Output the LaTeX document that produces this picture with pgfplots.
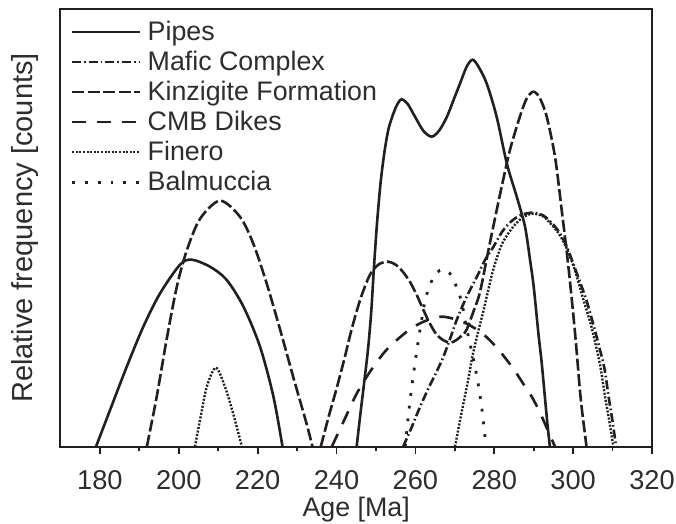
\documentclass[border=0pt]{standalone}
\usepackage{pgfplots}
\pgfplotsset{compat=1.18}
\usepackage{fontspec}
\setmainfont{Liberation Sans}
\definecolor{ink}{RGB}{35,31,32}
\definecolor{txt}{RGB}{45,45,45}

\begin{document}
\fontsize{13}{15.6}\selectfont
\begin{tikzpicture}
\begin{axis}[
  scale only axis,
  width=295.75pt, height=218.7pt,
  xmin=170, xmax=320, ymin=0, ymax=437.4,
  xtick={180,200,...,320},
  minor x tick num=1,
  ytick=\empty,
  xtick pos=bottom,
  tick align=outside,
  major tick length=3.6pt,
  minor tick length=2.2pt,
  every tick/.style={ink, line width=0.9pt},
  axis line style={ink, line width=1pt},
  /pgf/number format/assume math mode=true,
  /pgf/number format/1000 sep={},
  tick label style={font=\fontsize{13.6}{16}\selectfont, text=txt},
  xticklabel style={yshift=-4pt},
  xlabel={Age [Ma]},
  xlabel style={font=\fontsize{13.4}{16}\selectfont, text=txt, yshift=5.5pt},
  ylabel={Relative frequency [counts]},
  ylabel style={font=\fontsize{14.5}{17}\selectfont, text=txt, at={(axis description cs:-0.022,0.5)}, anchor=south},
  legend style={at={(0,1)}, anchor=north west, draw=none, fill=none,
    font=\fontsize{13.4}{16}\selectfont, text=txt,
    inner xsep=5pt, inner ysep=5.5pt,
    nodes={inner sep=0pt, text height=9.7pt, text depth=2.8pt},
    /tikz/row sep=2.5pt,
    /tikz/every odd column/.append style={column sep=3pt}},
  legend cell align=left,
  legend image code/.code={\draw[#1] (0pt,0.5pt) -- (34pt,0.5pt);},
  every axis plot/.append style={ink, line width=1.3pt, smooth, tension=0.5},
]
% Pipes
\addplot[solid] coordinates {
(179.0,0) (182.6,37) (186.8,80) (191.0,120) (195.2,153) (200.3,182) (203.3,187)
(207.9,180) (212.1,167) (216.4,140) (220.6,100) (224.0,50) (226.3,0)};
\addlegendentry{Pipes}
% Mafic Complex
\addplot[dash pattern=on 4.5pt off 1.5pt on 0.8pt off 1.5pt] coordinates {
(256.9,0) (259.0,19) (261.2,40) (263.5,60) (265.5,76) (267.1,90) (268.8,108)
(270.5,127) (273.0,150) (275.6,170) (277.7,187) (279.8,200) (282.0,215)
(284.5,226) (287.0,232) (289.9,234) (292.5,231) (295.0,222) (296.7,213)
(298.4,200) (300.5,178) (302.0,162) (303.4,146) (305.0,124) (306.8,97)
(308.0,77) (309.0,50) (310.0,25) (310.9,0)};
\addlegendentry{Mafic Complex}
% Kinzigite Formation
\addplot[dash pattern=on 6pt off 1.75pt] coordinates {
(191.9,0) (194.4,50) (196.9,107) (199.5,160) (202.0,196) (205.4,228) (210.45,246)
(215.5,230) (218.9,203) (222.3,163) (225.7,117) (229.0,70) (232.4,23) (233.9,0)};
\addlegendentry{Kinzigite Formation}
% CMB Dikes
\addplot[dash pattern=on 7pt off 5.5pt] coordinates {
(238.8,0) (242.0,27) (245.1,53) (248.5,75) (252.7,97) (257.8,115) (261.0,123)
(264.1,128) (267.0,130) (270.5,127) (273.5,122) (276.4,115) (279.0,106)
(281.5,95) (283.7,84) (285.7,73) (287.5,62) (289.5,50) (291.5,35) (293.5,17)
(295.4,0)};
\addlegendentry{CMB Dikes}
% Finero
\addplot[line width=1.2pt, dash pattern=on 1pt off 0.8pt] coordinates {
(204.1,0) (205.4,27) (207.1,60) (209.4,79) (211.7,60) (213.8,33) (216.0,0)};
\addlegendentry{Finero}
% Balmuccia
\addplot[line width=1.4pt, dash pattern=on 1.4pt off 5pt] coordinates {
(257.4,0) (258.6,45) (259.6,75) (260.5,100) (261.3,120) (262.4,145) (263.7,162)
(265.4,174) (267.0,177) (268.6,174) (270.2,162) (271.7,145) (273.0,118)
(274.3,95) (275.6,70) (276.8,40) (277.9,0)};
\addlegendentry{Balmuccia}
% second parts
\addplot[solid, forget plot] coordinates {
(245.1,0) (246.0,31) (247.0,64) (248.0,98) (248.8,135) (249.5,180) (250.3,225)
(251.2,265) (252.2,296) (253.2,318) (254.4,333) (255.5,343) (256.5,347.5)
(258.0,343) (259.9,330) (262.0,316) (264.1,310) (266.0,316) (268.0,330)
(270.0,350) (271.3,363) (273.0,380) (274.5,387) (276.0,380) (278.1,363)
(280.6,330) (283.2,283) (285.7,250) (287.8,220) (289.1,186) (290.0,160)
(291.2,113) (292.0,85) (292.9,47) (293.5,22) (294.1,0)};
\addplot[dash pattern=on 6pt off 1.75pt, forget plot] coordinates {
(236.0,0) (238.0,30) (240.0,58) (242.0,88) (243.8,117) (246.0,147) (248.0,168)
(249.3,177) (251.0,183) (253.1,185) (255.0,182) (256.8,175) (258.6,165)
(260.3,152) (262.0,137) (263.7,123) (265.4,112) (267.3,106) (269.0,104)
(270.5,107) (272.0,112) (273.0,117) (274.7,135) (276.4,155) (278.7,200)
(281.5,253) (284.0,297) (286.5,330) (288.2,348) (289.9,355) (291.5,349)
(293.3,330) (295.4,290) (297.0,240) (298.8,180) (300.5,113) (301.8,53)
(302.6,25) (303.4,0)};
\addplot[line width=1.2pt, dash pattern=on 1pt off 0.8pt, forget plot] coordinates {
(270.05,0) (271.5,30) (273.4,67) (274.3,87) (275.6,110) (277.2,135) (278.5,157)
(279.8,178) (282.0,203) (284.8,220) (287.5,230) (289.9,233) (292.5,230)
(295.0,220) (296.7,211) (298.4,198) (300.5,176) (302.6,147) (304.5,122)
(306.0,97) (307.0,78) (308.1,50) (309.2,25) (310.2,0)};
\end{axis}
\pgfresetboundingbox
\path ([shift={(-30.25pt,-38.65pt)}]current axis.south west) rectangle ([shift={(12pt,4.65pt)}]current axis.north east);
\end{tikzpicture}
\end{document}
